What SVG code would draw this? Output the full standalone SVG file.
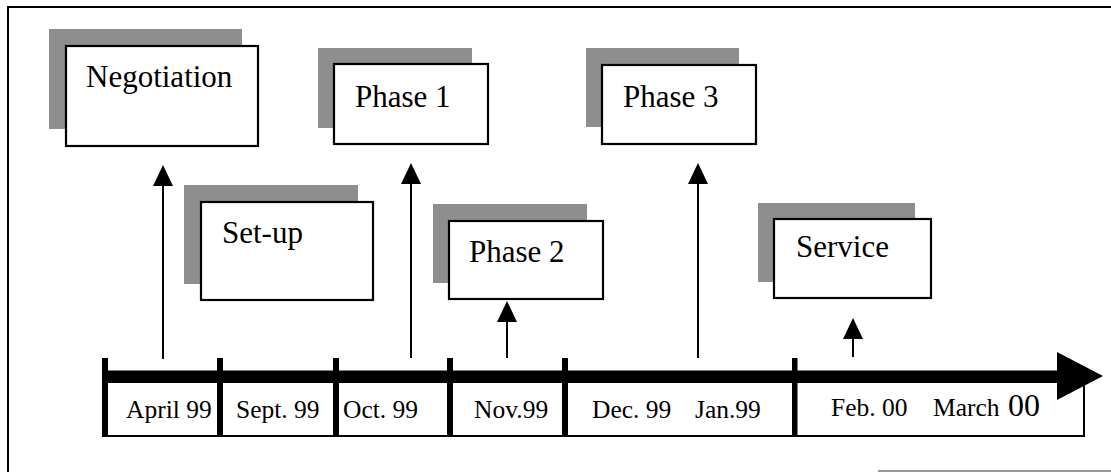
<svg xmlns="http://www.w3.org/2000/svg" width="1111" height="472" viewBox="0 0 1111 472">
<style>
.shadow{fill:#8e8e8e}
.box{fill:#fff;stroke:#000;stroke-width:2.2}
.t{font-family:"Liberation Serif","Times New Roman",serif;fill:#000}
.big{font-size:31px}
.lbl{font-size:25.5px}
.shaft{stroke:#000;stroke-width:2;fill:none;marker-end:url(#ah)}
.tick{fill:#000}
</style>
<defs>
<marker id="ah" markerUnits="userSpaceOnUse" markerWidth="24" markerHeight="24" viewBox="0 -12 24 24" refX="0" refY="0" orient="auto">
<path d="M0,-10 L21,0 L0,10 Z" fill="#000"/>
</marker>
</defs>
<rect width="1111" height="472" fill="#fff"/>
<path d="M8,472 V7 H1111" fill="none" stroke="#000" stroke-width="2"/>
<path d="M878,471 H1111" fill="none" stroke="#777" stroke-width="1.5"/>

<g id="negotiation">
<rect class="shadow" x="49" y="29" width="193" height="100"/>
<rect class="box" x="66" y="46" width="192" height="100"/>
<text class="t big" x="86" y="87">Negotiation</text>
</g>
<g id="setup">
<rect class="shadow" x="184" y="185" width="174" height="99"/>
<rect class="box" x="201" y="202" width="172" height="98"/>
<text class="t big" x="222" y="243">Set-up</text>
</g>
<g id="phase1">
<rect class="shadow" x="318" y="48" width="154" height="80"/>
<rect class="box" x="334" y="64" width="154" height="80"/>
<text class="t big" x="355" y="107">Phase 1</text>
</g>
<g id="phase2">
<rect class="shadow" x="433" y="204" width="154" height="79"/>
<rect class="box" x="449" y="221" width="154" height="78"/>
<text class="t big" x="469" y="262">Phase 2</text>
</g>
<g id="phase3">
<rect class="shadow" x="586" y="48" width="153" height="79"/>
<rect class="box" x="602" y="65" width="154" height="79"/>
<text class="t big" x="623" y="107">Phase 3</text>
</g>
<g id="service">
<rect class="shadow" x="758" y="203" width="157" height="79"/>
<rect class="box" x="774" y="219" width="157" height="79"/>
<text class="t big" x="796" y="257">Service</text>
</g>

<g id="timeline">
<rect x="105" y="377" width="979" height="59" fill="#fff" stroke="#000" stroke-width="2"/>
<rect x="102" y="370.5" width="957" height="12.5" fill="#000"/>
<polygon points="1057,352 1103,376 1057,400" fill="#000"/>
<rect class="tick" x="102" y="358" width="6" height="79"/>
<rect class="tick" x="217" y="358" width="6" height="79"/>
<rect class="tick" x="333" y="358" width="6" height="79"/>
<rect class="tick" x="447" y="358" width="6" height="79"/>
<rect class="tick" x="562" y="358" width="6" height="79"/>
<rect class="tick" x="792" y="358" width="5.5" height="78"/>
<text class="t lbl" x="126" y="418">April 99</text>
<text class="t lbl" x="236" y="418">Sept. 99</text>
<text class="t lbl" x="343" y="418">Oct. 99</text>
<text class="t lbl" x="474" y="418">Nov.99</text>
<text class="t lbl" y="418"><tspan x="592">Dec. 99</tspan><tspan x="695">Jan.99</tspan></text>
<text class="t lbl" y="416"><tspan x="831">Feb. 00</tspan><tspan x="933">March</tspan><tspan x="1008" font-size="32">00</tspan></text>
</g>

<g id="connectors">
<line class="shaft" x1="163" y1="359" x2="163" y2="186"/>
<line class="shaft" x1="411" y1="358" x2="411" y2="184"/>
<line class="shaft" x1="507" y1="358" x2="507" y2="322"/>
<line class="shaft" x1="698" y1="358" x2="698" y2="184"/>
<line class="shaft" x1="853" y1="357" x2="853" y2="339"/>
</g>
</svg>
